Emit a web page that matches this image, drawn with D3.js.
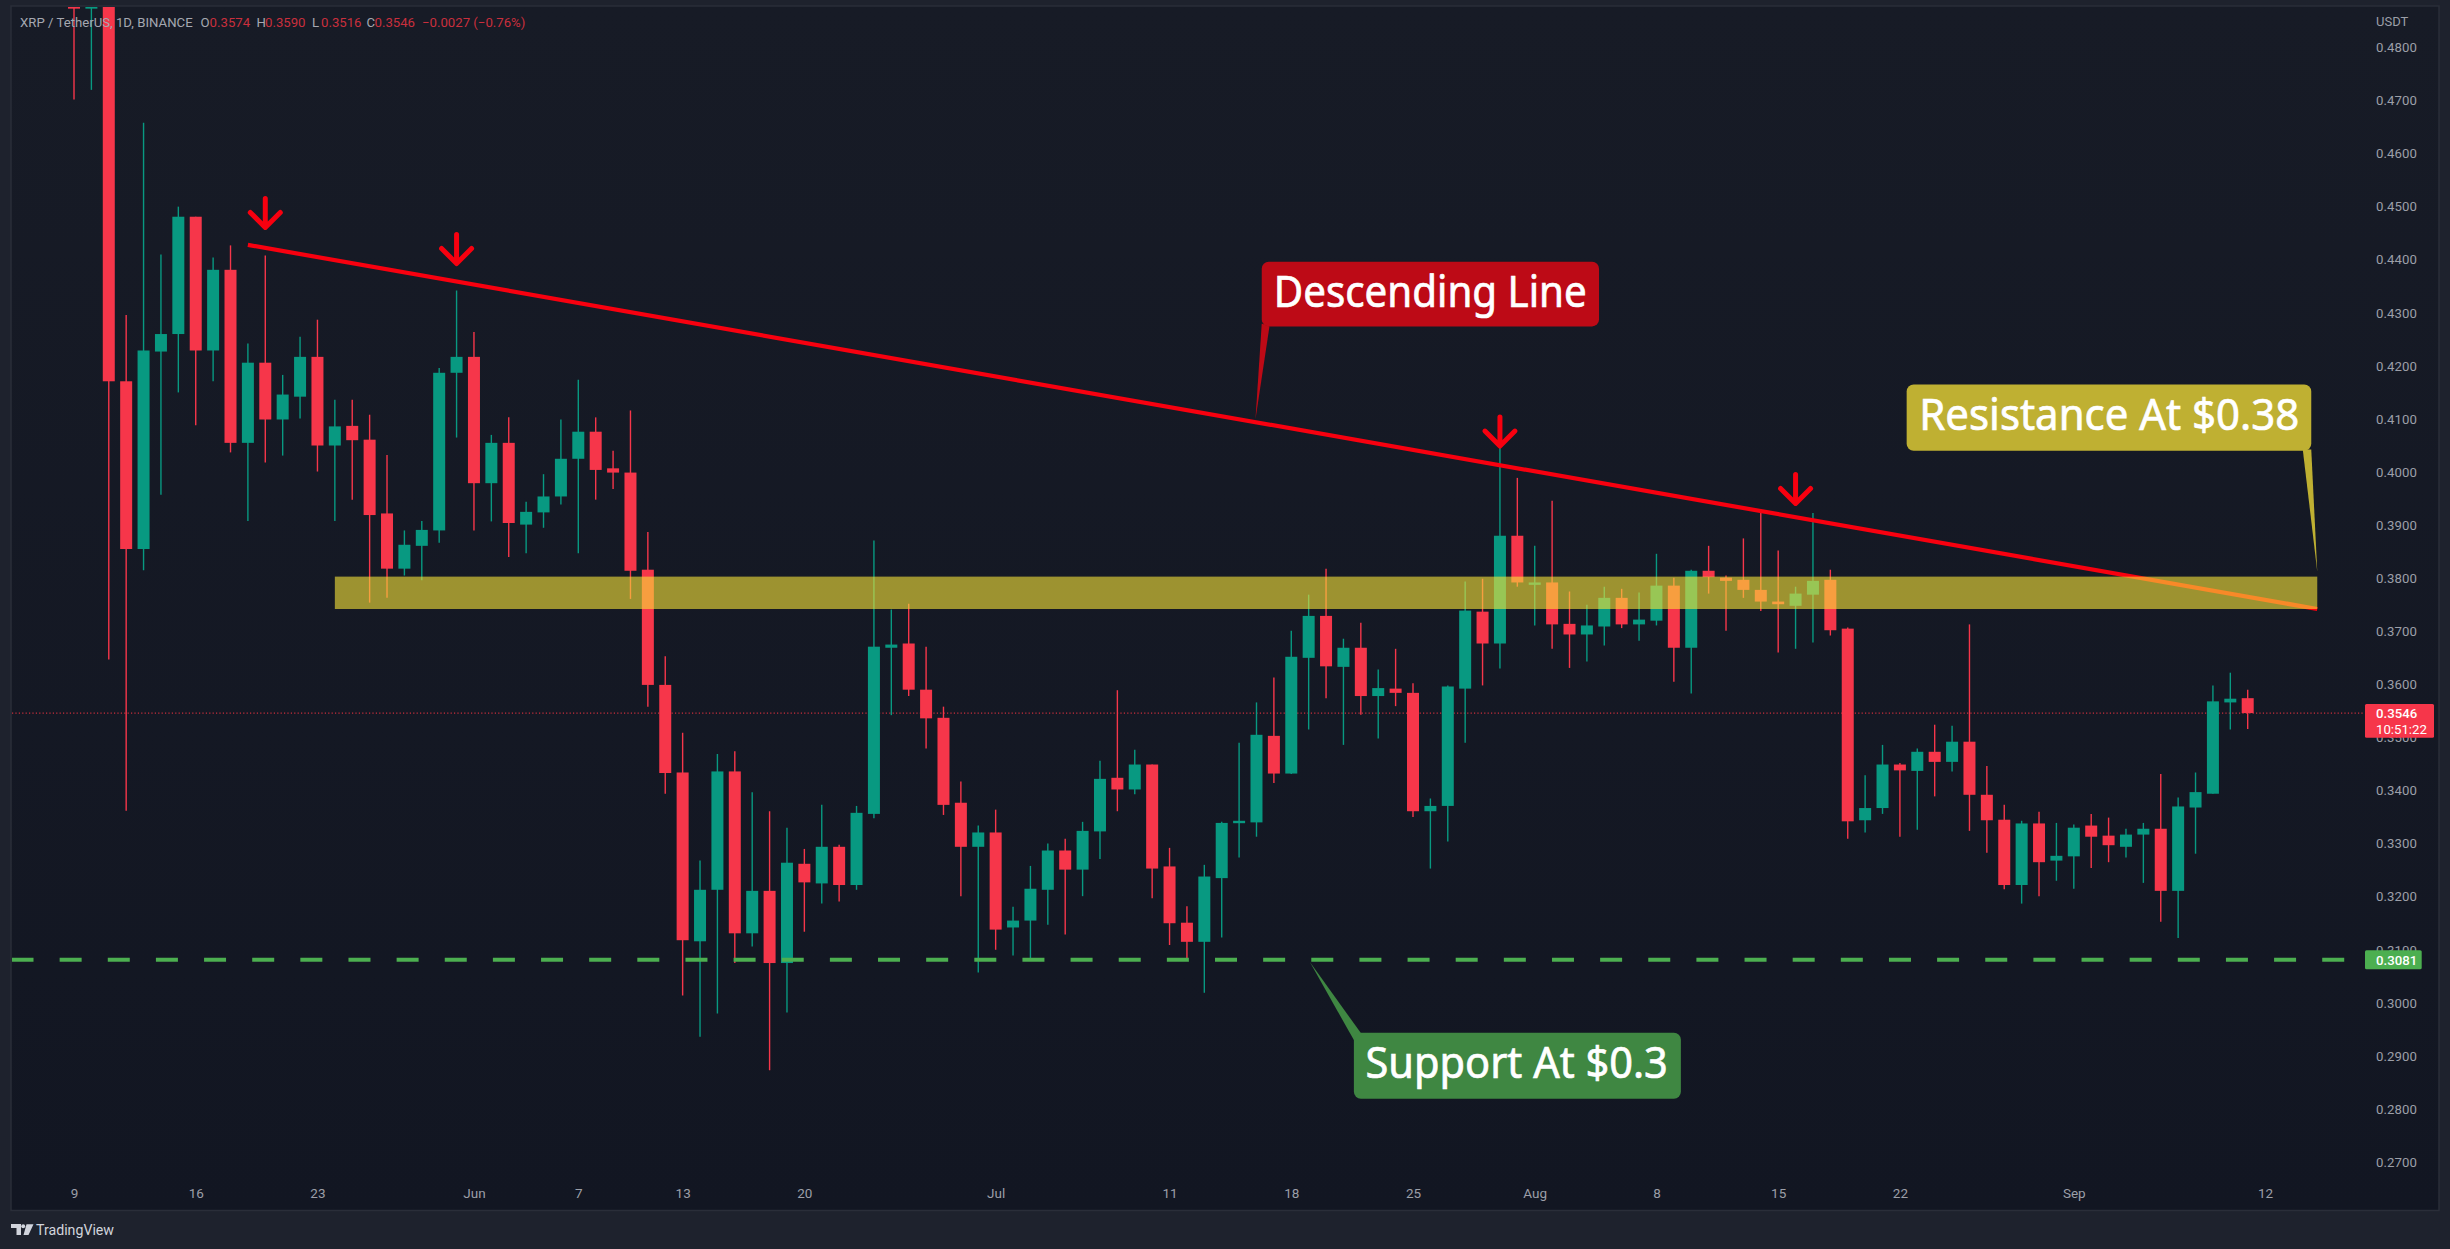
<!DOCTYPE html>
<html><head><meta charset="utf-8">
<script src="https://cdn.jsdelivr.net/npm/d3@7/dist/d3.min.js"></script>
<style>html,body{margin:0;padding:0;background:#1e222d;overflow:hidden}svg{display:block}</style>
</head><body><svg id="c" width="2450" height="1249"></svg>
<script>
// Daily candles, day index 0 = 9 May
const openPrices=[.5150,.4873,.5200,.4171,.3855,.4227,.4260,.4481,.4229,.4381,
.4055,.4206,.4099,.4142,.4217,.4050,.4087,.4061,.3922,.3818,
.3861,.3890,.4187,.4217,.3979,.4055,.3901,.3924,.3954,.4025,
.4076,.4007,.3999,.3816,.3599,.3434,.3116,.3213,.3436,.3131,
.3211,.3075,.3262,.3225,.3294,.3222,.3356,.3669,.3677,.3590,
.3537,.3377,.3294,.3321,.3142,.3155,.3213,.3287,.3251,.3323,
.3424,.3402,.3449,.3257,.3151,.3115,.3235,.3339,.3340,.3503,
.3432,.3650,.3729,.3633,.3669,.3578,.3592,.3584,.3361,.3371,
.3592,.3737,.3677,.3880,.3788,.3792,.3714,.3694,.3709,.3763,
.3713,.3720,.3786,.3669,.3814,.3801,.3797,.3778,.3756,.3748,
.3769,.3797,.3705,.3344,.3367,.3449,.3437,.3473,.3454,.3492,
.3392,.3345,.3222,.3338,.3268,.3276,.3334,.3315,.3294,.3317,
.3328,.3211,.3368,.3394,.3566,.3574];
const highPrices=[.5200,.5200,.5250,.4296,.4658,.4410,.4500,.4481,.4404,.4427,
.4242,.4408,.4183,.4255,.4287,.4136,.4136,.4108,.4032,.3890,
.3908,.4196,.4342,.4264,.4070,.4103,.3944,.3996,.4099,.4174,
.4103,.4040,.4116,.3887,.3653,.3509,.3268,.3469,.3474,.3397,
.3361,.3330,.3290,.3373,.3298,.3371,.3871,.3741,.3752,.3671,
.3558,.3417,.3334,.3364,.3181,.3258,.3300,.3309,.3341,.3456,
.3589,.3477,.3449,.3292,.3182,.3260,.3341,.3490,.3566,.3613,
.3701,.3769,.3818,.3686,.3716,.3628,.3667,.3602,.3385,.3598,
.3794,.3799,.4047,.3989,.3861,.3946,.3775,.3750,.3784,.3780,
.3773,.3846,.3801,.3816,.3861,.3805,.3875,.3924,.3852,.3784,
.3923,.3816,.3707,.3429,.3486,.3452,.3479,.3524,.3522,.3713,
.3446,.3373,.3343,.3360,.3339,.3336,.3356,.3349,.3328,.3339,
.3431,.3387,.3434,.3598,.3622,.3590];
const lowPrices=[.4702,.4720,.3647,.3362,.3815,.3957,.4150,.4088,.4171,.4037,
.3908,.4018,.4031,.4101,.4001,.3908,.3948,.3754,.3763,.3805,
.3796,.3867,.4065,.3890,.3907,.3840,.3847,.3895,.3939,.3847,
.3948,.3968,.3761,.3558,.3394,.3014,.2936,.2980,.3075,.3106,
.2873,.2982,.3134,.3187,.3191,.3213,.3348,.3542,.3578,.3479,
.3354,.3201,.3057,.3100,.3089,.3084,.3147,.3129,.3201,.3271,
.3361,.3393,.3197,.3109,.3081,.3019,.3123,.3274,.3313,.3414,
.3431,.3515,.3574,.3486,.3543,.3498,.3559,.3350,.3253,.3304,
.3490,.3598,.3630,.3784,.3711,.3667,.3631,.3643,.3673,.3706,
.3682,.3711,.3605,.3583,.3771,.3701,.3763,.3738,.3660,.3667,
.3679,.3692,.3309,.3321,.3356,.3313,.3326,.3389,.3436,.3324,
.3283,.3214,.3187,.3201,.3230,.3215,.3254,.3265,.3274,.3226,
.3153,.3122,.3281,.3394,.3515,.3516];
const closePrices=[.4873,.5120,.4171,.3855,.4229,.4260,.4481,.4229,.4381,.4055,
.4206,.4099,.4146,.4217,.4050,.4086,.4060,.3919,.3818,.3863,
.3891,.4187,.4217,.3979,.4055,.3904,.3925,.3954,.4025,.4076,
.4004,.3999,.3814,.3599,.3433,.3118,.3213,.3436,.3131,.3211,
.3075,.3264,.3227,.3294,.3222,.3358,.3671,.3675,.3590,.3536,
.3373,.3294,.3321,.3138,.3155,.3215,.3287,.3251,.3324,.3422,
.3402,.3449,.3253,.3150,.3115,.3238,.3339,.3343,.3505,.3432,
.3652,.3729,.3634,.3669,.3578,.3593,.3584,.3361,.3371,.3596,
.3739,.3677,.3880,.3792,.3792,.3713,.3694,.3711,.3763,.3713,
.3722,.3786,.3669,.3814,.3802,.3795,.3778,.3756,.3751,.3771,
.3795,.3702,.3342,.3367,.3449,.3438,.3473,.3454,.3492,.3392,
.3344,.3222,.3338,.3265,.3277,.3330,.3313,.3297,.3317,.3328,
.3211,.3370,.3397,.3568,.3573,.3546];

const priceTicks=[.27,.28,.29,.30,.31,.32,.33,.34,.35,.36,.37,.38,.39,.40,.41,.42,.43,.44,.45,.46,.47,.48];
const dayTicks=[0,7,14,23,29,35,42,53,63,70,77,84,91,98,105,115,126];
const dayTickLabels=["9","16","23","Jun","7","13","20","Jul","11","18","25","Aug","8","15","22","Sep","12"];

const trendDays=[10,129], trendPrices=[.4428,.3742];
const bandDays=[15,129], bandPrices=[.3803,.3742];
const supportPrice=.3081, lastPrice=.3546;
const arrowDays=[11,22,82,99], arrowTips=[.4459,.4391,.4047,.3939];

const legendParts=[
 ["XRP / TetherUS, 1D, BINANCE",20,"#a5a8b1"],["O",200.5,"#a5a8b1"],["0.3574",209.6,"#c92f3d"],
 ["H",256.5,"#a5a8b1"],["0.3590",265,"#c92f3d"],["L",312,"#a5a8b1"],["0.3516",321,"#c92f3d"],
 ["C",366.5,"#a5a8b1"],["0.3546",374.5,"#c92f3d"],["\u22120.0027 (\u22120.76%)",422,"#c92f3d"]];

const W=2450,H=1249,FONT="Roboto, sans-serif";
const svg=d3.select("#c");
const defs=svg.append("defs");
const g=defs.append("linearGradient").attr("id","bg").attr("x1",0).attr("x2",0).attr("y1",0).attr("y2",1);
g.append("stop").attr("offset",0).attr("stop-color","#171b26");
g.append("stop").attr("offset",1).attr("stop-color","#121622");
defs.append("clipPath").attr("id","pane").append("rect").attr("x",12).attr("y",7).attr("width",2352).attr("height",1203);

svg.append("rect").attr("width",W).attr("height",H).attr("fill","#1e222d");
svg.append("rect").attr("x",11).attr("y",6).attr("width",2428).attr("height",1204.5)
  .attr("fill","url(#bg)").attr("stroke","#2a2e39").attr("stroke-width",1.5);

const x=d3.scaleLinear().domain([0,125]).range([74,2247.7]);
const y=d3.scaleLinear().domain([.48,.27]).range([47.4,1162.1]);

const yAxis=d3.axisRight(y).tickValues(priceTicks).tickFormat(d3.format(".4f")).tickSize(0).tickPadding(0);
const ya=svg.append("g").attr("transform","translate(2376,0)").call(yAxis);
ya.select(".domain").remove();
ya.selectAll("text").attr("font-family",FONT).attr("font-size",13.2).attr("fill","#9c9fa8").attr("letter-spacing",.1);

const xAxis=d3.axisBottom(x).tickValues(dayTicks).tickFormat((d,i)=>dayTickLabels[i]).tickSize(0).tickPadding(0);
const xa=svg.append("g").attr("transform","translate(0,1188)").call(xAxis);
xa.select(".domain").remove();
xa.selectAll("text").attr("font-family",FONT).attr("font-size",13.5).attr("fill","#9c9fa8");

svg.append("text").attr("x",2376).attr("y",26).text("USDT").attr("font-family",FONT).attr("font-size",13).attr("fill","#9c9fa8");

const pane=svg.append("g").attr("clip-path","url(#pane)");
pane.append("line").attr("x1",12).attr("x2",2365).attr("y1",y(lastPrice)).attr("y2",y(lastPrice))
  .attr("stroke","#c92f3d").attr("stroke-width",1.2).attr("stroke-dasharray","1.2 2.2");

const UP="#089981",DOWN="#f6364a";
const idx=d3.range(openPrices.length);
const col=i=>closePrices[i]>=openPrices[i]?UP:DOWN;
pane.append("g").selectAll("line").data(idx).join("line")
  .attr("x1",x).attr("x2",x).attr("y1",i=>y(highPrices[i])).attr("y2",i=>y(lowPrices[i]))
  .attr("stroke",col).attr("stroke-width",1.4);
pane.append("g").selectAll("rect").data(idx).join("rect")
  .attr("x",i=>x(i)-6).attr("width",12)
  .attr("y",i=>y(Math.max(openPrices[i],closePrices[i])))
  .attr("height",i=>Math.max(2.4,Math.abs(y(openPrices[i])-y(closePrices[i]))))
  .attr("fill",col);

const trend=d3.line().x((d,i)=>x(trendDays[i])).y(d=>y(d));
pane.append("path").attr("d",trend(trendPrices)).attr("fill","none").attr("stroke","#f8000f").attr("stroke-width",4.2);

pane.append("rect").attr("x",x(bandDays[0])).attr("width",x(bandDays[1])-x(bandDays[0]))
  .attr("y",y(bandPrices[0])).attr("height",y(bandPrices[1])-y(bandPrices[0]))
  .attr("fill","rgb(249,228,57)").attr("fill-opacity",.6);

pane.append("line").attr("x1",11.5).attr("x2",2350).attr("y1",y(supportPrice)).attr("y2",y(supportPrice))
  .attr("stroke","#4caf50").attr("stroke-width",4).attr("stroke-dasharray","22 26.14");

// arrows
svg.append("g").selectAll("path").data(arrowDays).join("path")
  .attr("transform",(d,i)=>`translate(${x(d)},${y(arrowTips[i])})`)
  .attr("d","M0,-30V-2M-15,-16L0,-1L15,-16").attr("fill","none").attr("stroke","#f8000f")
  .attr("stroke-width",5).attr("stroke-linecap","round").attr("stroke-linejoin","round");

// callouts: tip from scales, box offset from tip
function callout(day,price,b,base,txt,col){
  const tx=x(day),ty=y(price),G=svg.append("g").attr("transform",`translate(${tx},${ty})`);
  G.append("path").attr("d",`M0,0L${base[0]},${base[1]}L${base[2]},${base[3]}Z`).attr("fill",col);
  G.append("rect").attr("x",b.x).attr("y",b.y).attr("width",b.w).attr("height",b.h).attr("rx",7).attr("fill",col);
  G.append("text").attr("x",b.tx).attr("y",b.ty).text(txt).attr("fill","#fff")
    .attr("font-family","'Noto Sans', sans-serif").attr("font-size",b.fs)
    .attr("stroke","#fff").attr("stroke-width",.7)
    .attr("textLength",b.tw).attr("lengthAdjust","spacingAndGlyphs");
}
callout(67.94,.40992,{x:6.3,y:-157.7,w:337.3,h:64.7,tx:18.3,ty:-112,tw:313,fs:44},[6.3,-96,14,-93],"Descending Line","#bd0a16");
callout(129,.38128,{x:-410.6,y:-187,w:404.6,h:66.4,tx:-398,ty:-141,tw:380,fs:44},[-14.5,-122,-6,-122],"Resistance At $0.38","#bfb032");
callout(71.07,.30768,{x:44,y:70.6,w:327,h:66,tx:55.7,ty:116,tw:302.3,fs:44},[44,78,51,71],"Support At $0.3","#3f8742");

// price tags
const tags=svg.append("g");
tags.append("rect").attr("x",2365).attr("y",y(lastPrice)-9).attr("width",69).attr("height",33.7).attr("rx",1.5).attr("fill","#f6364a");
tags.append("text").attr("x",2376).attr("y",y(lastPrice)+4.6).text(d3.format(".4f")(lastPrice)).attr("font-family",FONT).attr("font-size",13.2).attr("font-weight",500).attr("fill","#fff");
tags.append("text").attr("x",2376).attr("y",y(lastPrice)+21).text("10:51:22").attr("font-family",FONT).attr("font-size",13.2).attr("fill","#fff");
tags.append("rect").attr("x",2365).attr("y",y(supportPrice)-9.5).attr("width",56.7).attr("height",19).attr("rx",1.5).attr("fill","#4caf50");
tags.append("text").attr("x",2376).attr("y",y(supportPrice)+5).text(d3.format(".4f")(supportPrice)).attr("font-family",FONT).attr("font-size",13.2).attr("font-weight",500).attr("fill","#fff");

// legend
svg.append("g").selectAll("text").data(legendParts).join("text")
  .attr("x",d=>d[1]).attr("y",26.5).text(d=>d[0]).attr("fill",d=>d[2])
  .attr("font-family",FONT).attr("font-size",13.2);

// footer
svg.append("path").attr("d","M11,1224H21V1235H16.5V1228H11ZM26.5,1224.2H33.5L28.5,1235H23.5Z").attr("fill","#d1d4dc");
svg.append("circle").attr("cx",23.2).attr("cy",1226.2).attr("r",2).attr("fill","#d1d4dc");
svg.append("text").attr("x",36).attr("y",1235).text("TradingView").attr("font-family",FONT).attr("font-size",15.5).attr("fill","#d1d4dc").attr("textLength",78).attr("lengthAdjust","spacingAndGlyphs");
</script></body></html>
